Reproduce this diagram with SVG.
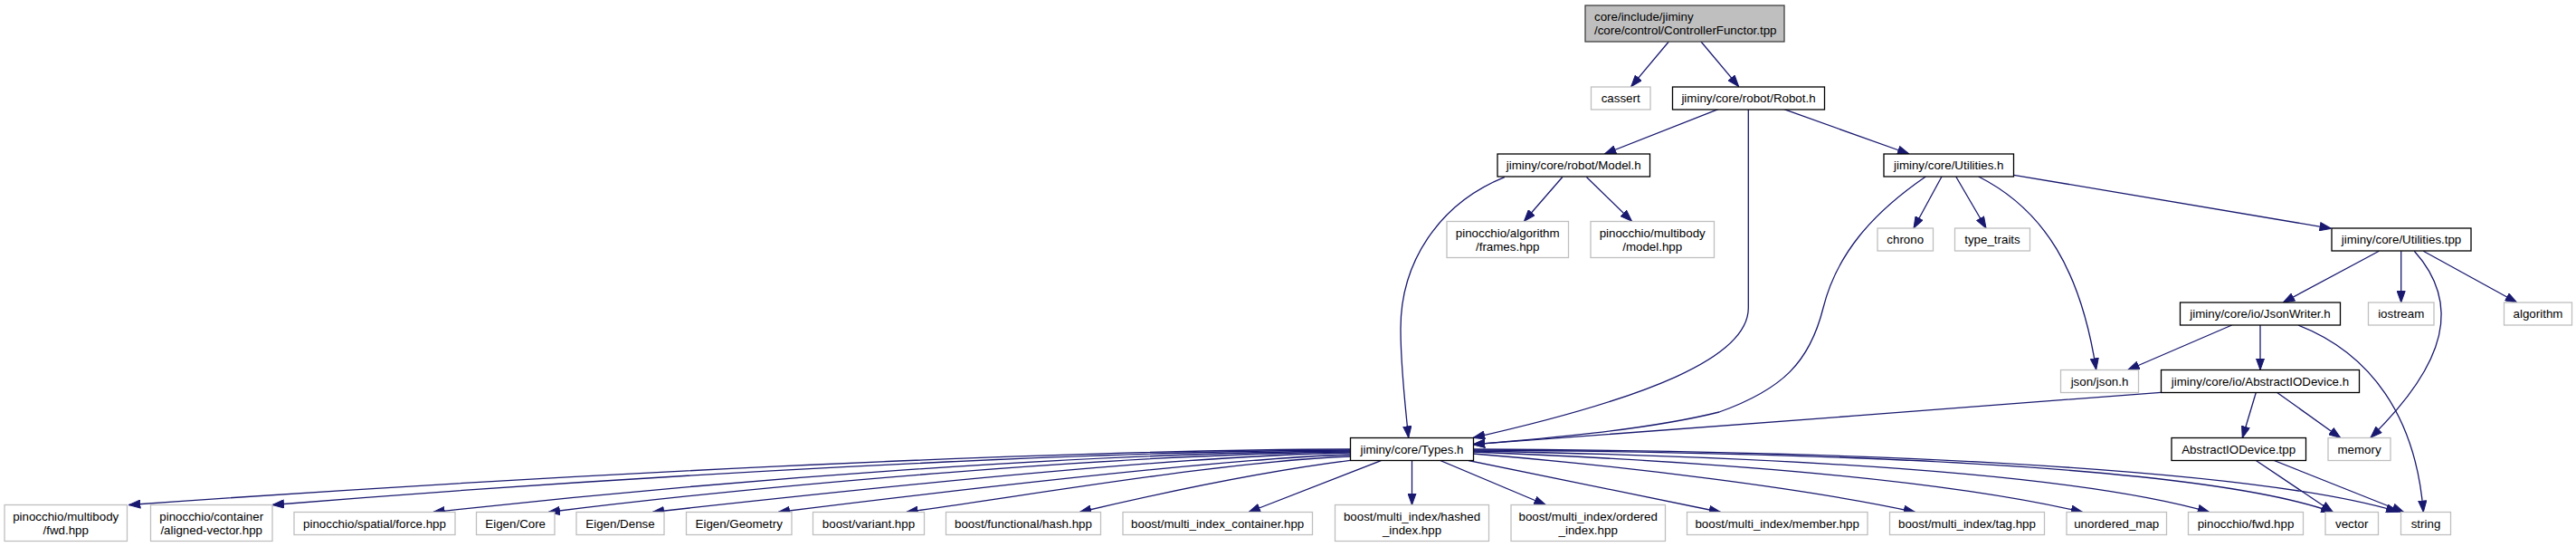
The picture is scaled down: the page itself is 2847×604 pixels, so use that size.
<svg xmlns="http://www.w3.org/2000/svg" width="2847" height="604" viewBox="0 0 2847 604">
<defs>
<marker id="arr" viewBox="0 0 13 10" refX="13" refY="5" markerWidth="13" markerHeight="10" orient="auto" markerUnits="userSpaceOnUse"><path d="M0.5,0.5 L13,5 L0.5,9.5 Z" fill="#191970" stroke="#191970" stroke-width="1"/></marker>
<style>
.n rect{fill:#fff;stroke:#000;stroke-width:1.3}
.n.ext rect{stroke:#bfbfbf}
.n.root rect{fill:#bfbfbf;stroke:#404040}
.n text{font-family:"Liberation Sans",Arial,Helvetica,sans-serif;font-size:13.33px;fill:#000;text-anchor:middle}
.n.root text{text-anchor:start}
#edges path{fill:none;stroke:#191970;stroke-width:1.3;marker-end:url(#arr)}
</style>
</defs>
<rect width="2847" height="604" fill="#fff"/>
<g id="edges">
<path d="M1844.3,46 L1802.7,95.7"/>
<path d="M1880,46 L1921.7,95.7"/>
<path d="M1899,120.7 L1773.3,170"/>
<path d="M1971.7,120.7 L2110,170"/>
<path d="M1932.3,120.7 L1932.3,340 C1932.3,395 1820,440 1628.3,483.3"/>
<path d="M1662.8,195.7 C1590,225 1548,290 1548,363 C1548,400 1552,440 1556.7,483.3"/>
<path d="M1726.8,195.5 L1684.4,244.3"/>
<path d="M1753.4,195.5 L1803.5,244.3"/>
<path d="M2128.3,195 C2070,235 2030,280 2015,340 C2000,400 1970,430 1900,455 C1820,475 1700,485 1628.3,490.7"/>
<path d="M2146,195 L2115,252"/>
<path d="M2161.7,195 L2195,252"/>
<path d="M2186.7,195 C2260,232 2300,300 2316.7,408.3"/>
<path d="M2225.7,193.3 L2576.5,252.3"/>
<path d="M2629.3,277.3 L2523.3,334"/>
<path d="M2653.7,277.3 L2653.7,334"/>
<path d="M2668.3,277.3 C2720,335 2705,400 2620,483.3"/>
<path d="M2678.3,277.3 L2781.7,334"/>
<path d="M2466.7,359 L2351.7,408.5"/>
<path d="M2498,359 L2498,408.5"/>
<path d="M2540,359 C2620,390 2670,460 2678.3,565.5"/>
<path d="M2388.3,433.3 C2150,452 1850,474 1628.3,490.7"/>
<path d="M2493.3,433.5 L2478.3,483.5"/>
<path d="M2516.7,433.5 L2586.7,483.5"/>
<path d="M2493.3,508.5 L2578.3,565.5"/>
<path d="M2513.3,508.5 L2656.7,565.5"/>
<path d="M1492.3,496 C1150,497 600,525 142.4,557.5"/>
<path d="M1492.3,497 C1200,498 700,525 301,557.5"/>
<path d="M1492.3,498 C1200,500 800,530 478.7,565.5"/>
<path d="M1492.3,499 C1250,501 850,535 606,565.5"/>
<path d="M1492.3,500 C1300,503 950,540 721,565.5"/>
<path d="M1492.3,502 C1350,506 1000,548 860,565.5"/>
<path d="M1492.3,504 C1350,510 1150,545 1001.7,565.5"/>
<path d="M1492.3,508.3 C1400,520 1280,545 1193.3,565.5"/>
<path d="M1526.7,508.5 L1380,565.5"/>
<path d="M1560.5,508.5 L1560.5,557.5"/>
<path d="M1591.7,508.5 L1708.3,557.5"/>
<path d="M1623,508.5 L1901.7,565.5"/>
<path d="M1628.3,501 C1800,515 2000,540 2116.7,565.5"/>
<path d="M1628.3,499 C1900,510 2150,530 2301.7,565.5"/>
<path d="M1628.3,498 C2000,505 2300,525 2441.7,565.5"/>
<path d="M1628.3,497 C2100,500 2450,520 2578.3,565.5"/>
<path d="M1628.3,496 C2100,498 2500,520 2650,565"/>
</g>
<g id="node-root" class="n root"><rect x="1752" y="6" width="220" height="40"/><text x="1762" y="23">core/include/jiminy</text><text x="1762" y="38">/core/control/ControllerFunctor.tpp</text></g>
<g id="node-cassert" class="n ext"><rect x="1758.5" y="96" width="65.5" height="25"/><text x="1791.2" y="113.2">cassert</text></g>
<g id="node-robot" class="n"><rect x="1848.5" y="96" width="168" height="25"/><text x="1932.5" y="113.2">jiminy/core/robot/Robot.h</text></g>
<g id="node-model" class="n"><rect x="1655" y="170" width="168.5" height="25"/><text x="1739.2" y="187.2">jiminy/core/robot/Model.h</text></g>
<g id="node-utilities-h" class="n"><rect x="2082" y="170" width="143.5" height="25"/><text x="2153.7" y="187.2">jiminy/core/Utilities.h</text></g>
<g id="node-frames" class="n ext"><rect x="1599" y="244.5" width="134.5" height="40"/><text x="1666.2" y="261.7">pinocchio/algorithm</text><text x="1666.2" y="276.7">/frames.hpp</text></g>
<g id="node-model-hpp" class="n ext"><rect x="1758" y="244.5" width="136.5" height="40"/><text x="1826.2" y="261.7">pinocchio/multibody</text><text x="1826.2" y="276.7">/model.hpp</text></g>
<g id="node-chrono" class="n ext"><rect x="2075" y="252" width="61.5" height="25"/><text x="2105.7" y="269.2">chrono</text></g>
<g id="node-type-traits" class="n ext"><rect x="2160.5" y="252" width="83" height="25"/><text x="2202" y="269.2">type_traits</text></g>
<g id="node-utilities-tpp" class="n"><rect x="2577" y="252" width="154" height="25"/><text x="2654" y="269.2">jiminy/core/Utilities.tpp</text></g>
<g id="node-jsonwriter" class="n"><rect x="2409.5" y="334" width="177" height="25"/><text x="2498" y="351.2">jiminy/core/io/JsonWriter.h</text></g>
<g id="node-iostream" class="n ext"><rect x="2617.5" y="334" width="72.5" height="25"/><text x="2653.7" y="351.2">iostream</text></g>
<g id="node-algorithm" class="n ext"><rect x="2767.5" y="334" width="75" height="25"/><text x="2805" y="351.2">algorithm</text></g>
<g id="node-json" class="n ext"><rect x="2277.5" y="408.5" width="86" height="25"/><text x="2320.5" y="425.7">json/json.h</text></g>
<g id="node-aiod-h" class="n"><rect x="2388.5" y="408.5" width="219" height="25"/><text x="2498" y="425.7">jiminy/core/io/AbstractIODevice.h</text></g>
<g id="node-types" class="n"><rect x="1492.5" y="483.5" width="136" height="25"/><text x="1560.5" y="500.7">jiminy/core/Types.h</text></g>
<g id="node-aiod-tpp" class="n"><rect x="2400" y="483.5" width="148.5" height="25"/><text x="2474.2" y="500.7">AbstractIODevice.tpp</text></g>
<g id="node-memory" class="n ext"><rect x="2573" y="483.5" width="69" height="25"/><text x="2607.5" y="500.7">memory</text></g>
<g id="node-mb-fwd" class="n ext"><rect x="5" y="557.5" width="135.5" height="40"/><text x="72.7" y="574.7">pinocchio/multibody</text><text x="72.7" y="589.7">/fwd.hpp</text></g>
<g id="node-aligned" class="n ext"><rect x="166.5" y="557.5" width="134.5" height="40"/><text x="233.7" y="574.7">pinocchio/container</text><text x="233.7" y="589.7">/aligned-vector.hpp</text></g>
<g id="node-force" class="n ext"><rect x="325" y="565.5" width="178" height="25"/><text x="414" y="582.7">pinocchio/spatial/force.hpp</text></g>
<g id="node-eigen-core" class="n ext"><rect x="526.5" y="565.5" width="86.5" height="25"/><text x="569.7" y="582.7">Eigen/Core</text></g>
<g id="node-eigen-dense" class="n ext"><rect x="637" y="565.5" width="97" height="25"/><text x="685.5" y="582.7">Eigen/Dense</text></g>
<g id="node-eigen-geometry" class="n ext"><rect x="758.5" y="565.5" width="116.5" height="25"/><text x="816.7" y="582.7">Eigen/Geometry</text></g>
<g id="node-variant" class="n ext"><rect x="898.5" y="565.5" width="123" height="25"/><text x="960" y="582.7">boost/variant.hpp</text></g>
<g id="node-hash" class="n ext"><rect x="1045.5" y="565.5" width="171" height="25"/><text x="1131" y="582.7">boost/functional/hash.hpp</text></g>
<g id="node-mic" class="n ext"><rect x="1241" y="565.5" width="209.5" height="25"/><text x="1345.7" y="582.7">boost/multi_index_container.hpp</text></g>
<g id="node-hashed" class="n ext"><rect x="1475.5" y="557.5" width="170" height="40"/><text x="1560.5" y="574.7">boost/multi_index/hashed</text><text x="1560.5" y="589.7">_index.hpp</text></g>
<g id="node-ordered" class="n ext"><rect x="1670" y="557.5" width="170.5" height="40"/><text x="1755.2" y="574.7">boost/multi_index/ordered</text><text x="1755.2" y="589.7">_index.hpp</text></g>
<g id="node-member" class="n ext"><rect x="1864.5" y="565.5" width="199.5" height="25"/><text x="1964.2" y="582.7">boost/multi_index/member.hpp</text></g>
<g id="node-tag" class="n ext"><rect x="2088.5" y="565.5" width="171" height="25"/><text x="2174" y="582.7">boost/multi_index/tag.hpp</text></g>
<g id="node-unordered-map" class="n ext"><rect x="2284" y="565.5" width="110.5" height="25"/><text x="2339.2" y="582.7">unordered_map</text></g>
<g id="node-pin-fwd" class="n ext"><rect x="2418.5" y="565.5" width="127" height="25"/><text x="2482" y="582.7">pinocchio/fwd.hpp</text></g>
<g id="node-vector" class="n ext"><rect x="2570" y="565.5" width="58.5" height="25"/><text x="2599.2" y="582.7">vector</text></g>
<g id="node-string" class="n ext"><rect x="2653.5" y="565.5" width="55" height="25"/><text x="2681" y="582.7">string</text></g>
</svg>
